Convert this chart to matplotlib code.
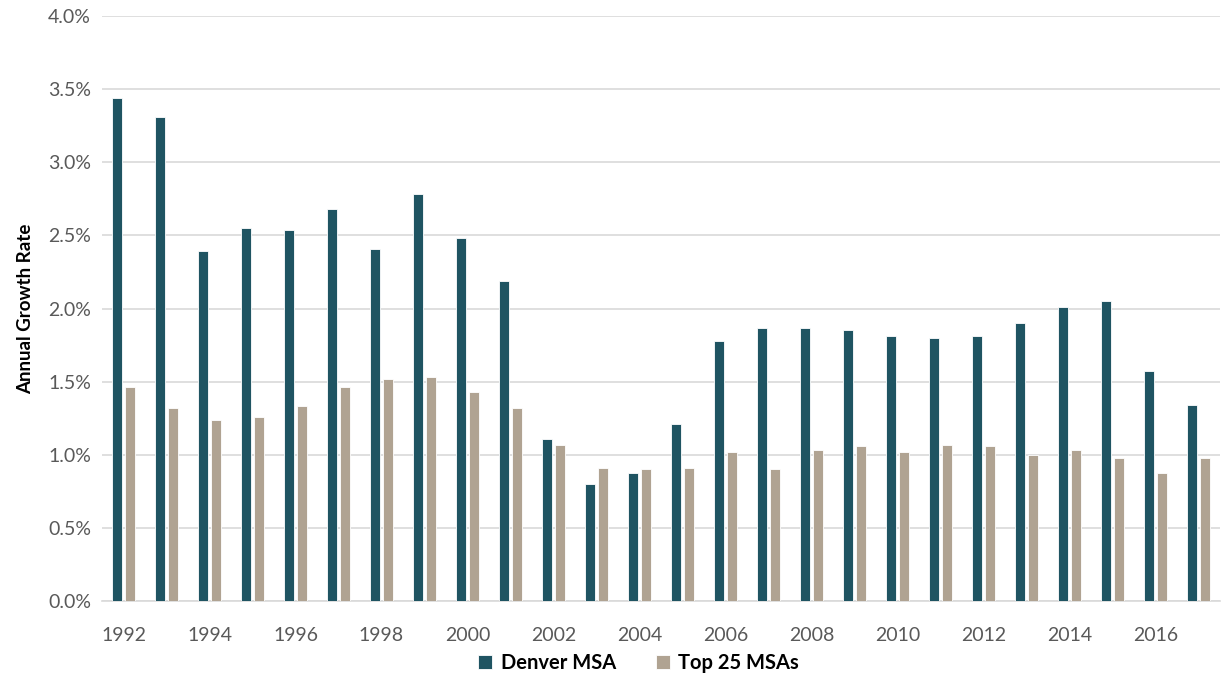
import numpy as np
import matplotlib
matplotlib.use("Agg")
from matplotlib import pyplot as plt
from matplotlib.ticker import FuncFormatter, MultipleLocator

plt.rcParams['font.family'] = ['Lato', 'DejaVu Sans']

years = list(range(1992, 2018))
# annual growth rate, percent
denver = [3.44, 3.31, 2.39, 2.55, 2.54, 2.68, 2.41, 2.78, 2.48, 2.19,
          1.11, 0.80, 0.875, 1.21, 1.78, 1.87, 1.87, 1.85, 1.81, 1.80,
          1.81, 1.90, 2.01, 2.05, 1.57, 1.34]
top25 = [1.46, 1.32, 1.24, 1.26, 1.33, 1.46, 1.52, 1.53, 1.43, 1.32,
         1.07, 0.91, 0.90, 0.91, 1.02, 0.90, 1.03, 1.06, 1.02, 1.07,
         1.06, 1.00, 1.03, 0.98, 0.875, 0.98]
tick_years = years[::2]

c_denver = '#1f5462'
c_top = '#b0a392'

fig = plt.figure(figsize=(12.21, 6.77), dpi=100)
ax = fig.add_axes([102 / 1221, 76 / 677, 1118 / 1221, 585 / 677])

x = np.arange(len(years))
w = 0.23
ax.bar(x - 0.155, denver, w, color=c_denver, edgecolor='white', linewidth=0.6,
       label='Denver MSA', zorder=3)
ax.bar(x + 0.155, top25, w, color=c_top, edgecolor='white', linewidth=0.6,
       label='Top 25 MSAs', zorder=3)

ax.set_xlim(-0.5, len(years) - 0.5)
ax.set_ylim(0, 4.0)
ax.yaxis.set_major_locator(MultipleLocator(0.5))
ax.yaxis.set_major_formatter(FuncFormatter(lambda v, p: f'{v:.1f}%'))
ax.grid(axis='y', color='#d9d9d9', linewidth=1.2, zorder=0)

ax.set_xticks([years.index(y) for y in tick_years])
ax.set_xticklabels([str(y) for y in tick_years])
ax.tick_params(axis='both', length=0, labelsize=14, labelcolor='#595959')
ax.tick_params(axis='x', pad=19)
ax.tick_params(axis='y', pad=8)

for s in ['top', 'right', 'left']:
    ax.spines[s].set_visible(False)
ax.spines['bottom'].set_color('#d9d9d9')
ax.spines['bottom'].set_linewidth(1.2)

ax.set_ylabel('Annual Growth Rate', fontsize=13.5, fontweight='bold', labelpad=10)

leg = ax.legend(loc='upper center', bbox_to_anchor=(0.48, -0.058), ncol=2,
                frameon=False, handlelength=0.7, handleheight=0.7,
                columnspacing=2.0, handletextpad=0.4,
                prop={'weight': 'bold', 'size': 14.5})

fig.savefig('out.png', dpi=100)
